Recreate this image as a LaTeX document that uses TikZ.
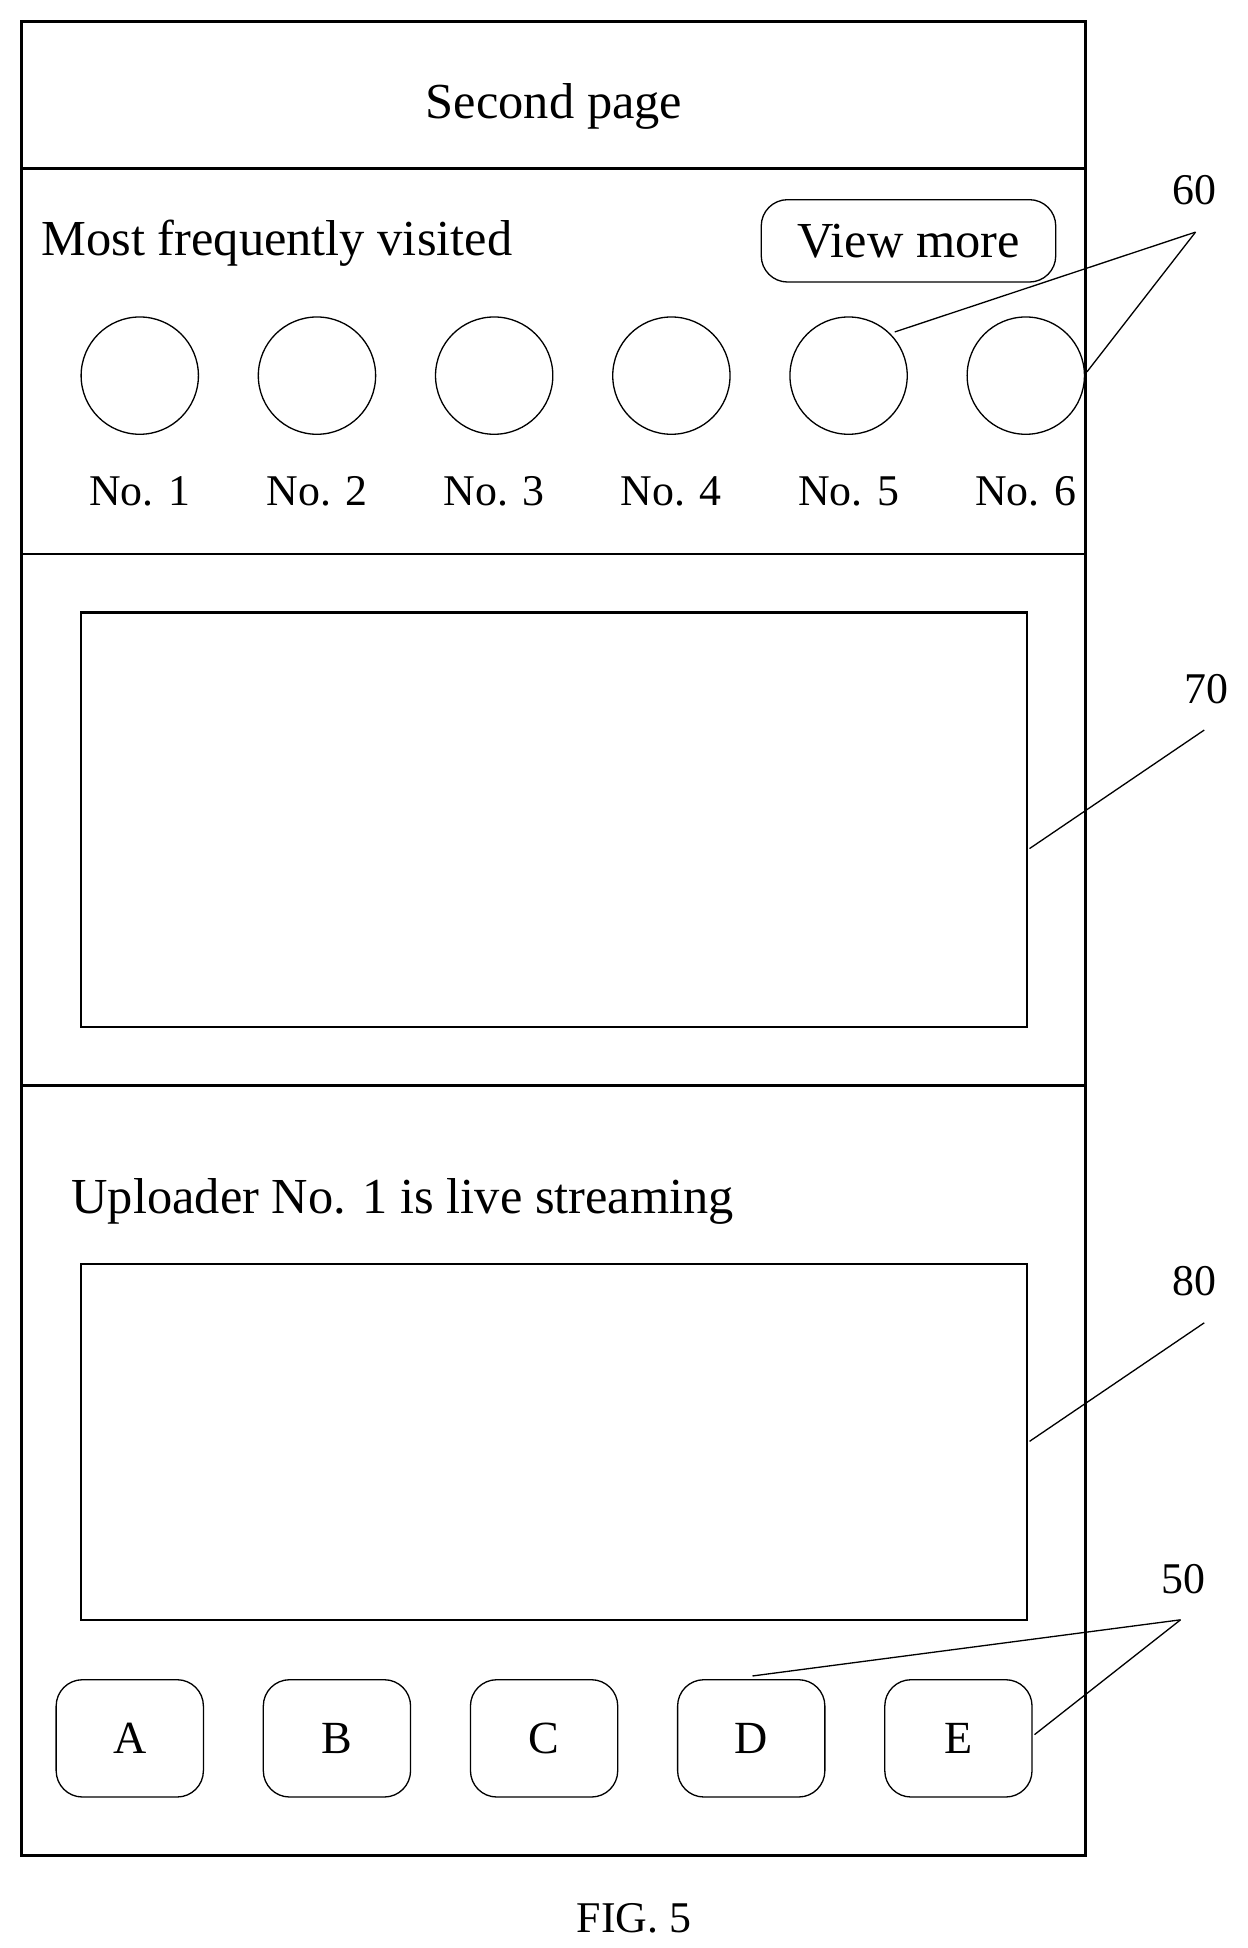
\documentclass[tikz,border=0pt]{standalone}
\usepackage{fontspec}
\setmainfont{Liberation Serif}
\begin{document}
\begin{tikzpicture}[x=0.02cm,y=-0.02cm,
  ln/.style={line width=1.2pt},
  th/.style={line width=0.6pt},
  txt/.style={font=\fontsize{20}{24}\selectfont, inner sep=0pt},
  big/.style={font=\fontsize{23}{27}\selectfont, inner sep=0pt},
  btn/.style={draw, line width=0.6pt, rounded corners=12pt, minimum width=118*0.02cm, minimum height=94*0.02cm, font=\fontsize{21}{24}\selectfont},
  circ/.style={draw, th, circle, minimum size=94*0.02cm}]
\useasboundingbox (0,0) rectangle (1000,1561);
\draw[ln] (17,17) rectangle (870,1487);
\draw[ln] (17,135) -- (870,135);
\draw[ln] (17,444) -- (870,444);
\draw[ln] (17,870) -- (870,870);
\node[big] (title) at (444,85) {Second page};
\node[big, anchor=west] (mfv) at (33,195) {Most frequently visited};
\node[draw, th, rounded corners=12pt, minimum width=236*0.02cm, minimum height=66*0.02cm, font=\fontsize{23}{27}\selectfont, inner sep=0pt] (vm) at (728,193) {View more};
\foreach \i/\x in {1/112,2/254,3/396,4/538,5/680,6/822}{
  \node[circ] (c\i) at (\x,301) {};
  \node[txt] (n\i) at (\x,394) {No. \i};
}
\node[draw, ln, minimum width=758*0.02cm, minimum height=332*0.02cm, inner sep=0pt] (b70) at (444,657) {};
\node[big, anchor=west] (up) at (57,963) {Uploader No. 1 is live streaming};
\node[draw, ln, minimum width=758*0.02cm, minimum height=285*0.02cm, inner sep=0pt] (b80) at (444,1155.5) {};
\foreach \l/\x in {A/104,B/270,C/436,D/602,E/768}{
  \node[btn] (\l) at (\x,1393) {\l};
}
\node[txt] (l60) at (957,152) {60};
\node[txt] (l70) at (967,552) {70};
\node[txt] (l80) at (957,1027) {80};
\node[txt] (l50) at (948,1265) {50};
\coordinate (p60) at (958,186);
\coordinate (p70) at (965,585);
\coordinate (p80) at (965,1060);
\coordinate (p50) at (946,1298);
\draw[th] (p60) -- (717,266);
\draw[th] (p60) -- (871,298);
\draw[th] (p70) -- (825,680);
\draw[th] (p80) -- (825,1155);
\draw[th] (p50) -- (603,1343);
\draw[th] (p50) -- (829,1390);
\node[txt] (fig) at (508,1537) {FIG. 5};
\end{tikzpicture}
\end{document}
